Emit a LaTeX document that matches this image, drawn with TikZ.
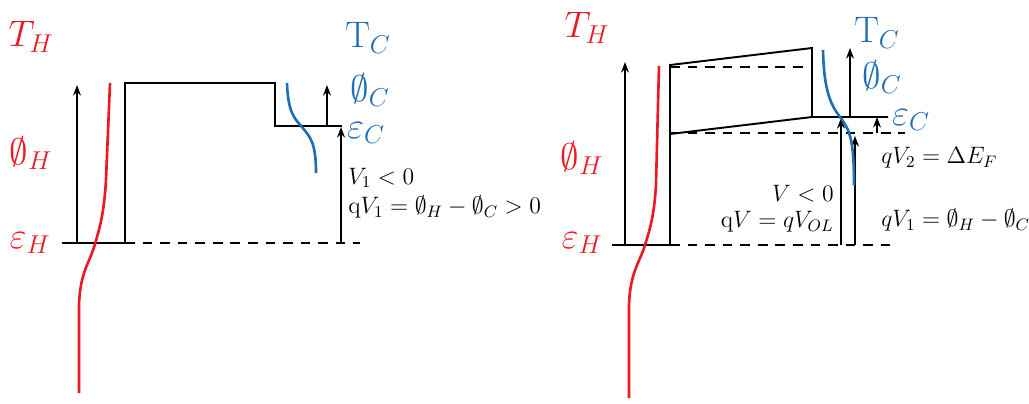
\RequirePackage{fix-cm}
\documentclass[tikz,border=0pt]{standalone}
\usepackage{amssymb}
\usepackage{xcolor}
\usetikzlibrary{arrows.meta}

\definecolor{hotred}{RGB}{235,25,35}
\definecolor{coldblue}{RGB}{30,110,180}

\tikzset{
  level/.style={black,line width=1.1pt},
  levdash/.style={black,line width=1.1pt,dash pattern=on 5.5pt off 4.5pt},
  uparrow/.style={black,line width=1pt,-{Stealth[length=6pt,width=4.5pt]}},
  bigtag/.style={font=\fontsize{21}{24}\selectfont,inner sep=0pt},
  smalltag/.style={font=\fontsize{13.5}{16}\selectfont,inner sep=0pt},
  hotline/.style={hotred,line width=1.5pt},
  coldline/.style={coldblue,line width=1.5pt}
}

\begin{document}
\begin{tikzpicture}[x=0.02cm,y=-0.02cm]

% Cadre
\useasboundingbox (0,0) rectangle (1029,403);

% ===== Schema de gauche =====

% Niveaux et barriere
\draw[level] (62,243) -- (125,243) -- (125,83) -- (275,83) -- (275,126) -- (342,126);
\draw[levdash] (125,243) -- (360,243);

% Fleches
\coordinate (phiHbotL) at (77,243);
\coordinate (phiHtopL) at (77,85);
\coordinate (phiCbotL) at (327,126);
\coordinate (phiCtopL) at (327,85);
\coordinate (VbotL) at (341,243);
\coordinate (VtopL) at (341,127);
\draw[uparrow] (phiHbotL) -- (phiHtopL);
\draw[uparrow] (phiCbotL) -- (phiCtopL);
\draw[uparrow] (VbotL) -- (VtopL);

% Distributions de Fermi
\draw[hotline] (110,83) -- (106,180) .. controls (104,215) and (99,230) .. (95,244)
  .. controls (90,262) and (80,272) .. (79,305) -- (79,393);
\draw[coldline] (287,83) .. controls (288,112) and (294,118) .. (302,127)
  .. controls (310,137) and (316,142) .. (316,173);

% Etiquettes
\node[bigtag,hotred] (THL) at (31,37) {$T_H$};
\node[bigtag,hotred] (phiHL) at (31,153) {$\emptyset_H$};
\node[bigtag,hotred] (epsHL) at (30,243) {$\varepsilon_H$};
\node[bigtag,coldblue] (TCL) at (368,38) {$\mathrm{T}_C$};
\node[bigtag,coldblue] (phiCL) at (370,90) {$\emptyset_C$};
\node[bigtag,coldblue] (epsCL) at (366,133) {$\varepsilon_C$};

\node[smalltag,anchor=west] (V1L) at (348,178) {$V_1 < 0$};
\node[smalltag,anchor=west] (qV1L) at (348,207) {$\mathrm{q}V_1 = \emptyset_H - \emptyset_C > 0$};

% ===== Schema de droite =====

% Niveaux et barriere
\draw[level] (612,245) -- (670,245) -- (670,65) -- (812,48) -- (812,117) -- (888,117);
\draw[level] (670,134) -- (812,117);
\draw[levdash] (670,245) -- (890,245);
\draw[levdash] (670,67) -- (812,67);
\draw[levdash] (670,133) -- (905,133);

% Fleches
\coordinate (phiHbotR) at (625,245);
\coordinate (phiHtopR) at (625,62);
\coordinate (phiCbotR) at (850,117);
\coordinate (phiCtopR) at (850,48);
\coordinate (V2botR) at (877,133);
\coordinate (V2topR) at (877,117);
\coordinate (VbotR) at (841,245);
\coordinate (VtopR) at (841,118);
\coordinate (V1botR) at (855,245);
\coordinate (V1topR) at (855,136);
\draw[uparrow] (phiHbotR) -- (phiHtopR);
\draw[uparrow] (phiCbotR) -- (phiCtopR);
\draw[uparrow] (V2botR) -- (V2topR);
\draw[uparrow] (VbotR) -- (VtopR);
\draw[uparrow] (V1botR) -- (V1topR);

% Distributions de Fermi
\draw[hotline] (659,66) -- (656,185) .. controls (654,218) and (649,232) .. (645,245)
  .. controls (640,262) and (630,272) .. (629,305) -- (629,398);
\draw[coldline] (823,50) .. controls (824,92) and (831,105) .. (840,117)
  .. controls (850,130) and (854,140) .. (854,185);

% Etiquettes
\node[bigtag,hotred] (THR) at (587,28) {$T_H$};
\node[bigtag,hotred] (phiHR) at (582,158) {$\emptyset_H$};
\node[bigtag,hotred] (epsHR) at (582,243) {$\varepsilon_H$};
\node[bigtag,coldblue] (TCR) at (877,33) {$\mathrm{T}_C$};
\node[bigtag,coldblue] (phiCR) at (882,77) {$\emptyset_C$};
\node[bigtag,coldblue] (epsCR) at (911,120) {$\varepsilon_C$};

\node[smalltag,anchor=east] (VR) at (834,194) {$V < 0$};
\node[smalltag,anchor=east] (qVR) at (834,222) {$\mathrm{q}V = qV_{OL}$};
\node[smalltag,anchor=west] (qV2R) at (881,158) {$qV_2 = \Delta E_F$};
\node[smalltag,anchor=west] (qV1R) at (881,220) {$qV_1 = \emptyset_H - \emptyset_C$};

\end{tikzpicture}
\end{document}
